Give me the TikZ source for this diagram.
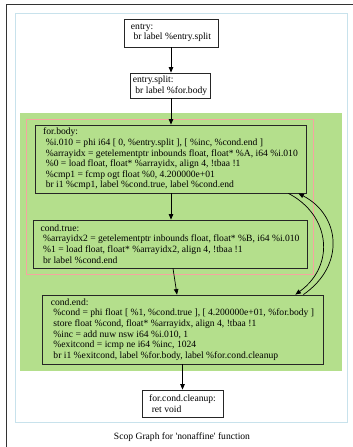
\documentclass[tikz,border=0pt]{standalone}
\usepackage{fontspec}
\setmainfont{Liberation Serif}
\usetikzlibrary{arrows.meta}
\definecolor{regiongreen}{RGB}{180,223,140}
\definecolor{regionpink}{RGB}{245,165,160}
\definecolor{framebluec}{RGB}{200,226,236}
\newcommand\lead{\hspace*{2.6pt}}
\newcommand\blockfont{\fontsize{9.6}{10.6}\selectfont}
\tikzset{
  block/.style={draw=black!85, line width=0.8pt, align=left, inner sep=0pt,
    font=\blockfont},
  flow/.style={draw=black, line width=0.7pt,
    -{Triangle[length=5.5pt,width=4.5pt]}},
}
\begin{document}
\begin{tikzpicture}[x=1pt,y=-1pt]
\useasboundingbox (0,0) rectangle (353,447);
% window frame
\draw[black!80, line width=0.9pt] (6,447) -- (6,4) -- (353,4);
% graph area and nested regions
\draw[framebluec, line width=0.9pt] (15,13) rectangle (347,422);
\fill[regiongreen] (20,113) rectangle (342,371);
\draw[regionpink, line width=0.8pt] (26,119) rectangle (313,274);
% basic blocks
\node[block, fill=white, minimum width=94, minimum height=28] (entry) at (171,33)
  {entry:\\\lead br label \%entry.split};
\node[block, fill=white, minimum width=80, minimum height=25] (split) at (170,85.5)
  {entry.split:\\\lead br label \%for.body};
\node[block, minimum width=271, minimum height=68] (body) at (170.5,159)
  {for.body:\\
   \lead \%i.010 = phi i64 [ 0, \%entry.split ], [ \%inc, \%cond.end ]\\
   \lead \%arrayidx = getelementptr inbounds float, float* \%A, i64 \%i.010\\
   \lead \%0 = load float, float* \%arrayidx, align 4, !tbaa !1\\
   \lead \%cmp1 = fcmp ogt float \%0, 4.200000e+01\\
   \lead br i1 \%cmp1, label \%cond.true, label \%cond.end};
\node[block, minimum width=274, minimum height=48] (ctrue) at (170,244)
  {cond.true:\\
   \lead \%arrayidx2 = getelementptr inbounds float, float* \%B, i64 \%i.010\\
   \lead \%1 = load float, float* \%arrayidx2, align 4, !tbaa !1\\
   \lead br label \%cond.end};
\node[block, minimum width=281, minimum height=69] (cend) at (182.5,329.5)
  {cond.end:\\
   \lead \%cond = phi float [ \%1, \%cond.true ], [ 4.200000e+01, \%for.body ]\\
   \lead store float \%cond, float* \%arrayidx, align 4, !tbaa !1\\
   \lead \%inc = add nuw nsw i64 \%i.010, 1\\
   \lead \%exitcond = icmp ne i64 \%inc, 1024\\
   \lead br i1 \%exitcond, label \%for.body, label \%for.cond.cleanup};
\node[block, fill=white, minimum width=81, minimum height=27] (cleanup) at (182.5,403.5)
  {for.cond.cleanup:\\\lead ret void};
% control flow
\draw[flow] (entry.south) -- (entry.south |- split.north);
\draw[flow] (entry.south |- split.south) -- (entry.south |- body.north);
\draw[flow] (entry.south |- body.south) -- (entry.south |- ctrue.north);
\draw[flow] ([xshift=3]ctrue.south) -- ([xshift=-5.5]cend.north);
\draw[flow] ([xshift=-18]body.south east) .. controls (330,215) and (336,265) .. ([xshift=-28]cend.north east);
\draw[flow] ([xshift=-20]cend.north east) .. controls (346,265) and (340,215) .. ([xshift=-8]body.south east);
\draw[flow] (cend.south) -- (cleanup.north);
% caption
\node[font=\blockfont] (caption) at (182,437)
  {Scop Graph for \textquotesingle nonaffine\textquotesingle{} function};
\end{tikzpicture}
\end{document}
